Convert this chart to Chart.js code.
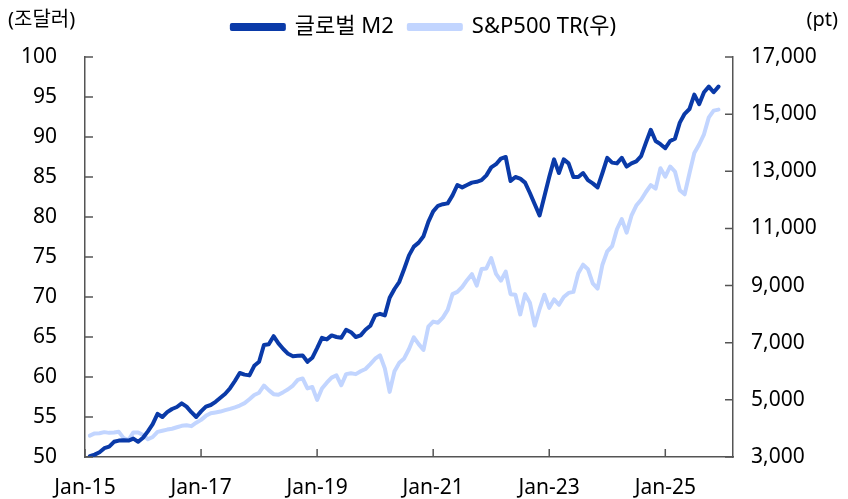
<!DOCTYPE html>
<html lang="ko">
<head>
<meta charset="utf-8">
<script src="https://cdn.jsdelivr.net/npm/chart.js@4.4.1/dist/chart.umd.min.js"></script>
<style>
  html, body { margin: 0; padding: 0; background: #fff; }
  #wrap { width: 848px; height: 499px; position: relative; }
</style>
</head>
<body>
<div id="wrap"><canvas id="grafik"></canvas></div>
<script>
// 월별 데이터: Jan-15 ~ Nov-25 (월말 기준)
const namaSeri = ['글로벌 M2', 'S&P500 TR(우)'];

const globalM2 = [
  50.1, 50.3, 50.6, 51.1, 51.3, 51.9, 52.05, 52.1, 52.05, 52.3,
  51.9, 52.4, 53.2, 54.1, 55.4, 55.0, 55.6, 56.0, 56.25, 56.7,
  56.3, 55.6, 55.0, 55.7, 56.3, 56.5, 56.9, 57.4, 57.9, 58.6,
  59.5, 60.5, 60.3, 60.2, 61.4, 61.9, 64.0, 64.1, 65.1, 64.2,
  63.5, 62.9, 62.6, 62.65, 62.7, 61.9, 62.4, 63.6, 64.9, 64.7,
  65.2, 65.0, 64.9, 65.9, 65.6, 65.0, 65.2, 65.9, 66.4, 67.7,
  67.9, 67.7, 69.9, 71.0, 71.9, 73.5, 75.2, 76.3, 76.8, 77.6,
  79.4, 80.7, 81.4, 81.6, 81.7, 82.7, 84.0, 83.7, 84.0, 84.3,
  84.4, 84.6, 85.2, 86.2, 86.6, 87.3, 87.5, 84.5, 85.0, 84.8,
  84.3, 83.0, 81.6, 80.2, 82.6, 85.0, 87.2, 85.5, 87.2, 86.7,
  85.0, 85.0, 85.5, 84.6, 84.2, 83.7, 85.5, 87.4, 86.8, 86.7,
  87.4, 86.3, 86.7, 86.95, 87.6, 89.3, 90.9, 89.5, 89.1, 88.6,
  89.5, 89.8, 91.8, 92.9, 93.5, 95.3, 94.1, 95.6, 96.3, 95.6,
  96.3
];

const sp500tr = [
  3750, 3826, 3830, 3870, 3845, 3860, 3880, 3660, 3590, 3860,
  3860, 3770, 3620, 3700, 3880, 3920, 3960, 3990, 4040, 4090,
  4110, 4080, 4200, 4300, 4440, 4530, 4560, 4590, 4640, 4685,
  4740, 4800, 4885, 5020, 5170, 5250, 5500, 5340, 5200, 5180,
  5270, 5370, 5500, 5700, 5750, 5400, 5450, 5000, 5400, 5600,
  5780, 5860, 5510, 5900, 5930, 5900, 6000, 6080, 6250, 6440,
  6560, 6100, 5280, 6000, 6300, 6450, 6780, 7190, 6950, 6750,
  7560, 7740, 7700, 7880, 8150, 8700, 8780, 8950, 9190, 9400,
  9000, 9580, 9600, 9960, 9410, 9170, 9490, 8700, 8680, 7990,
  8700, 8400, 7600, 8180, 8680, 8220, 8516, 8328, 8600, 8743,
  8778, 9430, 9730, 9573, 9074, 8896, 9730, 10200, 10378, 10971,
  11327, 10852, 11445, 11800, 12003, 12275, 12516, 12394, 13109, 12812,
  13168, 12990, 12335, 12195, 12930, 13642, 13938, 14294, 14887, 15124,
  15159
];

// 축 눈금 (x = Jan-15 부터 경과 개월)
const xTickBulan = [0, 24, 48, 72, 96, 120];
const xTickLabel = ['Jan-15', 'Jan-17', 'Jan-19', 'Jan-21', 'Jan-23', 'Jan-25'];
const xMax = 134;
const kiriMin = 50, kiriMax = 100, kiriStep = 5;
const kananMin = 3000, kananMax = 17000, kananStep = 2000;

const warnaM2 = '#0a3aa8';
const warnaSP = '#c2d5ff';
const warnaSumbu = '#555';
const FONT = "'Noto Sans', 'Noto Sans CJK KR', sans-serif";

// 월말 값 -> 해당 월 다음 눈금 위치
const titikM2 = globalM2.map((v, i) => ({ x: i + 1, y: v }));
const titikSP = sp500tr.map((v, i) => ({ x: i + 1, y: v }));

// 범례 아래 여백 추가
const jarakLegend = {
  id: 'jarakLegend',
  afterInit(chart) {
    const lg = chart.legend;
    if (!lg) return;
    const asli = lg.fit.bind(lg);
    lg.fit = function () { asli(); this.height += 9; };
  }
};

// 안쪽 눈금선 + 단위 표시
const tandaPlugin = {
  id: 'tanda',
  afterDraw(chart) {
    const { ctx, chartArea: a, scales } = chart;
    ctx.save();
    ctx.strokeStyle = warnaSumbu;
    ctx.lineWidth = 1.5;
    const len = 8;
    ctx.beginPath();
    scales.y.ticks.forEach(t => {
      const y = scales.y.getPixelForValue(t.value);
      ctx.moveTo(a.left, y); ctx.lineTo(a.left + len, y);
    });
    scales.y1.ticks.forEach(t => {
      const y = scales.y1.getPixelForValue(t.value);
      ctx.moveTo(a.right, y); ctx.lineTo(a.right - len, y);
    });
    xTickBulan.forEach(v => {
      const x = scales.x.getPixelForValue(v);
      ctx.moveTo(x, a.bottom); ctx.lineTo(x, a.bottom - len);
    });
    ctx.stroke();

    ctx.fillStyle = '#000';
    ctx.font = '20px ' + FONT;
    ctx.textBaseline = 'middle';
    ctx.textAlign = 'left';
    ctx.fillText('(조달러)', 8, 20);
    ctx.textAlign = 'right';
    ctx.fillText('(pt)', 838, 20);
    ctx.restore();
  }
};

new Chart(document.getElementById('grafik'), {
  type: 'line',
  data: {
    datasets: [{
      label: namaSeri[0],
      data: titikM2,
      borderColor: warnaM2,
      backgroundColor: warnaM2,
      borderWidth: 4,
      yAxisID: 'y'
    }, {
      label: namaSeri[1],
      data: titikSP,
      borderColor: warnaSP,
      backgroundColor: warnaSP,
      borderWidth: 4,
      yAxisID: 'y1'
    }]
  },
  options: {
    responsive: true,
    maintainAspectRatio: false,
    animation: false,
    layout: { padding: { top: 1 } },
    elements: {
      point: { radius: 0 },
      line: { tension: 0, borderJoinStyle: 'round', borderCapStyle: 'round' }
    },
    plugins: {
      legend: {
        position: 'top',
        labels: {
          boxWidth: 52, boxHeight: 4, padding: 15,
          color: '#000',
          font: { family: FONT, size: 22 }
        }
      },
      tooltip: { enabled: false }
    },
    scales: {
      x: {
        type: 'linear',
        min: 0, max: xMax,
        afterBuildTicks: s => { s.ticks = xTickBulan.map(v => ({ value: v })); },
        afterFit: s => { s.height = 42; },
        grid: { display: false },
        border: { display: true, color: warnaSumbu, width: 1.5 },
        ticks: {
          padding: 10,
          color: '#000',
          font: { family: FONT, size: 21 },
          maxRotation: 0,
          callback: (v, i) => xTickLabel[i]
        }
      },
      y: {
        position: 'left',
        min: kiriMin, max: kiriMax,
        afterFit: s => { s.width = 85; },
        grid: { display: false },
        border: { display: true, color: warnaSumbu, width: 1.5 },
        ticks: {
          stepSize: kiriStep, padding: 20,
          color: '#000',
          font: { family: FONT, size: 21 }
        }
      },
      y1: {
        position: 'right',
        min: kananMin, max: kananMax,
        afterFit: s => { s.width = 115; },
        grid: { display: false },
        border: { display: true, color: warnaSumbu, width: 1.5 },
        ticks: {
          stepSize: kananStep, padding: 10,
          color: '#000',
          font: { family: FONT, size: 21 },
          callback: v => v.toLocaleString('en-US')
        }
      }
    }
  },
  plugins: [jarakLegend, tandaPlugin]
});
</script>
</body>
</html>
